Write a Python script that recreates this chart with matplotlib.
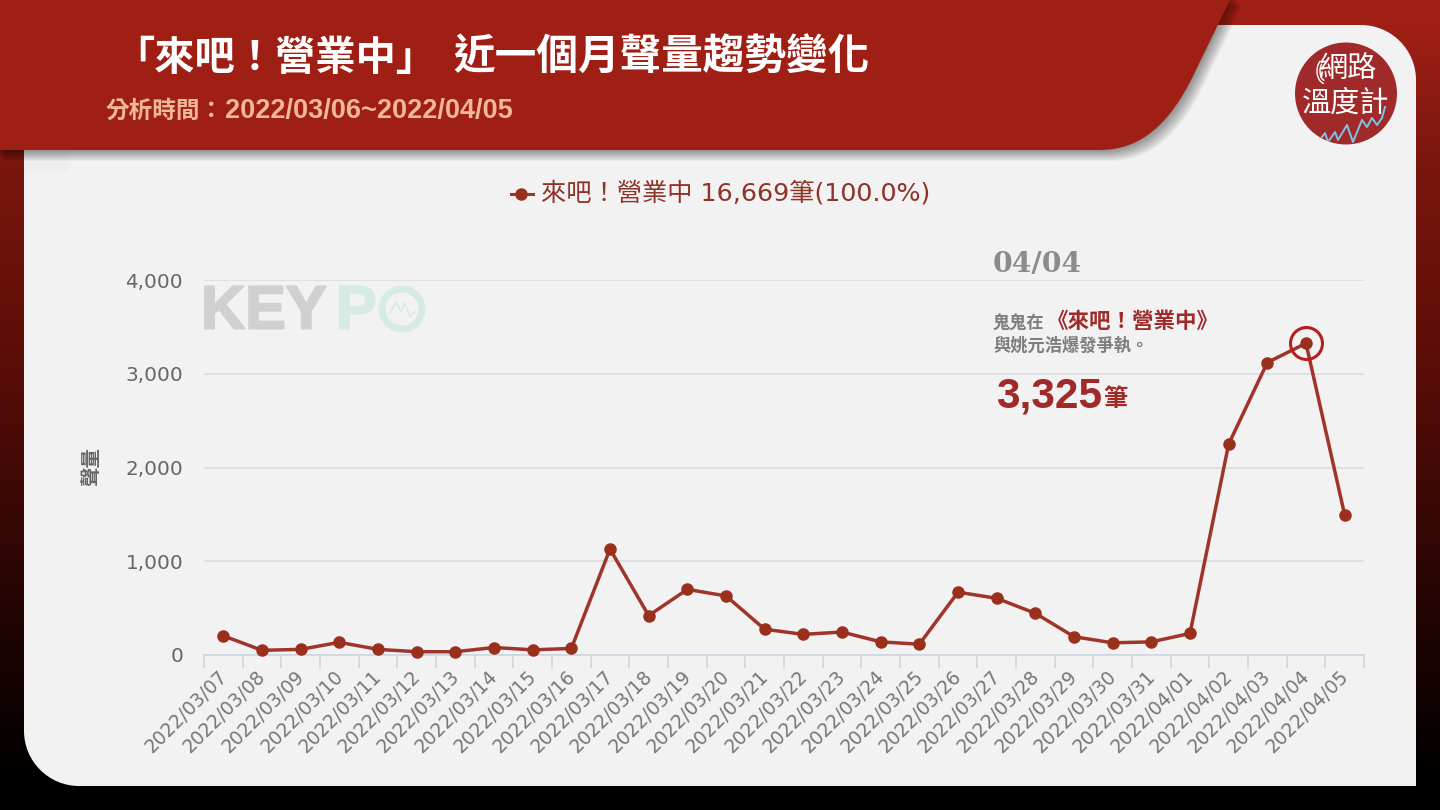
import numpy as np
import matplotlib
matplotlib.use("Agg")
import matplotlib.pyplot as plt
import matplotlib.patheffects as pe
from matplotlib.patches import Circle, PathPatch, Arc
from matplotlib.path import Path
from matplotlib.colors import LinearSegmentedColormap
from matplotlib.transforms import ScaledTranslation

CJK = ['Noto Sans CJK TC', 'DejaVu Sans']
LATIN = ['DejaVu Sans', 'Noto Sans CJK TC']
plt.rcParams['font.family'] = CJK

dates = ["2022/03/07","2022/03/08","2022/03/09","2022/03/10","2022/03/11","2022/03/12",
         "2022/03/13","2022/03/14","2022/03/15","2022/03/16","2022/03/17","2022/03/18",
         "2022/03/19","2022/03/20","2022/03/21","2022/03/22","2022/03/23","2022/03/24",
         "2022/03/25","2022/03/26","2022/03/27","2022/03/28","2022/03/29","2022/03/30",
         "2022/03/31","2022/04/01","2022/04/02","2022/04/03","2022/04/04","2022/04/05"]
volumes = [205,50,60,135,60,35,35,80,55,70,1130,420,700,630,275,220,245,140,115,670,
           605,445,195,130,140,230,2250,3120,3325,1495]
yticks = [0,1000,2000,3000,4000]
peak_index = 28

RED = "#a01f14"
LINE = "#a0342a"
MARK = "#9a2f1c"
GRID = "#d9dce0"
TICKC = "#ccd6e0"
TXT = "#666666"
PANEL = "#f2f2f2"

W, H = 1440, 810
fig = plt.figure(figsize=(14.4, 8.1), dpi=100)

bg = fig.add_axes([0, 0, 1, 1])
bg.axis("off")

cmap = LinearSegmentedColormap.from_list("g", [
    (0, "#a01f14"), (0.03, "#a01f14"), (0.19, "#7b170e"), (0.42, "#5f0e08"),
    (0.69, "#2e0604"), (0.96, "#000000"), (1, "#000000")])
bg.imshow(np.linspace(0, 1, 256)[:, None], cmap=cmap, extent=[0, W, H, 0], aspect="auto", zorder=0)
bg.set_xlim(0, W); bg.set_ylim(H, 0)

# panel: three rounded corners, square bottom right
L, R, T, B = 24, 1416, 25, 786
r = 55
k = 0.45
panel_verts = [(L+r, T), (R-r, T), (R-r*k, T), (R, T+r*k), (R, T+r), (R, B), (L+r, B),
               (L+r*k, B), (L, B-r*k), (L, B-r), (L, T+r), (L, T+r*k), (L+r*k, T), (L+r, T), (L+r, T)]
panel_codes = [Path.MOVETO, Path.LINETO, Path.CURVE4, Path.CURVE4, Path.CURVE4, Path.LINETO, Path.LINETO,
               Path.CURVE4, Path.CURVE4, Path.CURVE4, Path.LINETO, Path.CURVE4, Path.CURVE4, Path.CURVE4,
               Path.CLOSEPOLY]
bg.add_patch(PathPatch(Path(panel_verts, panel_codes), fc=PANEL, ec="none", lw=0, zorder=1))
bg.fill([24, 68, 68, 24], [150, 150, 172, 172], color="#eeeeee", lw=0, zorder=1)


def header(dx=0, dy=0):
    verts = [(-5+dx, -5+dy), (1232+dx, -5+dy), (1230+dx, 0+dy), (1195+dx, 72+dy),
             (1170+dx, 125+dy), (1140+dx, 150+dy), (1100+dx, 150+dy),
             (-5+dx, 150+dy), (-5+dx, -5+dy)]
    codes = [Path.MOVETO, Path.LINETO, Path.LINETO, Path.LINETO, Path.CURVE4, Path.CURVE4, Path.CURVE4,
             Path.LINETO, Path.CLOSEPOLY]
    return Path(verts, codes)


for i in range(11, 0, -1):
    bg.add_patch(PathPatch(header(i*0.9, i), fc="black", ec="none", lw=0, alpha=0.04, zorder=2))
bg.add_patch(PathPatch(header(), fc=RED, ec="none", lw=0, zorder=3))

bg.text(114, 58, "「來吧！營業中」", color="white", fontsize=29, fontweight="bold",
        va="center", ha="left", zorder=4)
bg.text(453, 58, "近一個月聲量趨勢變化", color="white", fontsize=30, fontweight="bold",
        va="center", ha="left", zorder=4)
bg.text(106, 111, "分析時間：", color="#f0b79a", fontsize=17, fontweight="bold",
        va="center", ha="left", zorder=4)
bg.text(225, 111, "2022/03/06~2022/04/05", color="#f0b79a", fontsize=19.5, fontweight="bold",
        family=["Liberation Sans"], va="center", ha="left", zorder=4)

# logo
logo = Circle((1346, 93.5), 51, fc="#a02a2a", ec="none", zorder=4)
bg.add_patch(logo)
bg.text(1348, 69, "網路", color="white", fontsize=21, va="center", ha="center", zorder=5)
bg.text(1346, 104, "溫度計", color="white", fontsize=21, va="center", ha="center", zorder=5)
for w_, h_ in [(12, 20), (18, 26)]:
    bg.add_patch(Arc((1326, 71), w_, h_, theta1=100, theta2=240, color="white", lw=1, zorder=5))
spark_x = [1322,1325,1328,1335,1338,1347,1353,1362,1367,1372,1377,1382,1385]
spark_y = [137,133,142,132,140,125,142,120,127,118,125,118,107]
spark, = bg.plot(spark_x, spark_y, color="#7cc4ea", lw=1.4, zorder=6)
spark.set_clip_path(logo)

# watermark
heavy = [pe.withStroke(linewidth=1.5, foreground="#cfd0d0")]
heavy2 = [pe.withStroke(linewidth=1.5, foreground="#d6ebe4")]
bg.text(201, 313, "KEY", color="#cfd0d0", fontsize=44, fontweight="bold", family=["Liberation Sans"],
        va="center", ha="left", zorder=2, path_effects=heavy)
bg.text(336, 313, "P", color="#d6ebe4", fontsize=44, fontweight="bold", family=["Liberation Sans"],
        va="center", ha="left", zorder=2, path_effects=heavy2)
bg.add_patch(Circle((402, 309), 20, fc="none", ec="#d6ebe4", lw=5, zorder=2))
bg.plot([390, 396, 401, 405, 410, 415], [313, 302, 312, 303, 317, 311], color="#d6ebe4", lw=1.2, zorder=2)

# chart
left, right, top, bottom = 204, 1364, 280, 655
ax = fig.add_axes([left/W, 1-bottom/H, (right-left)/W, (bottom-top)/H])
ax.patch.set_alpha(0)
x = np.arange(len(dates))
ax.set_xlim(-0.5, len(dates)-0.5)
ax.set_ylim(0, 4000)
ax.set_yticks(yticks)
ax.set_yticklabels([f"{v:,}" for v in yticks], fontsize=14.4, color=TXT, family=LATIN)
ax.grid(axis="y", color=GRID, lw=1.2)
ax.set_axisbelow(True)
for s in ["top", "right", "left"]:
    ax.spines[s].set_visible(False)
ax.spines["bottom"].set_color(TICKC)
ax.spines["bottom"].set_linewidth(1.2)
ax.tick_params(axis="y", length=0, pad=15)
ax.set_xticks(np.arange(len(dates)+1)-0.5)
ax.set_xticklabels([])
ax.tick_params(axis="x", length=9, width=1.2, color=TICKC)
ax.set_xticks(x, minor=True)
ax.set_xticklabels(dates, minor=True, rotation=45, ha="right", va="top", rotation_mode="anchor",
                   fontsize=13.5, color="#777777", family=LATIN)
ax.tick_params(axis="x", which="minor", length=0, pad=8.5)
shift = ScaledTranslation(-6/100, 0, fig.dpi_scale_trans)
for lab in ax.get_xticklabels(minor=True):
    lab.set_transform(lab.get_transform() + shift)

ax.plot(x, volumes, color=LINE, lw=2.5, marker="o", ms=8, mfc=MARK, mec=MARK, zorder=5, clip_on=False)
ax.plot([x[peak_index]], [volumes[peak_index]], marker="o", ms=23, mfc="none", mec="#b3201f", mew=2.2,
        zorder=6, clip_on=False)

bg.text(92, 467, "聲量", rotation=90, color=TXT, fontsize=14, fontweight="bold", va="center", ha="center", zorder=2)

# legend
bg.plot([511, 533], [194, 194], color=LINE, lw=2.2, zorder=2)
bg.plot([521], [194], color=MARK, marker="o", ms=8, zorder=2)
bg.text(541, 193, "來吧！營業中 16,669筆(100.0%)", color="#8f3328", fontsize=18.2, family=LATIN,
        va="center", ha="left", zorder=2)

# annotation
bg.text(993, 264, "04/04", color="#8b8b8b", fontsize=20.3, fontweight="bold", family=["DejaVu Serif"],
        va="center", ha="left", zorder=7)
bg.text(993, 323.5, "鬼鬼在", color="#7d7d7d", fontsize=12.4, fontweight="bold", va="center", ha="left", zorder=7)
bg.text(1047, 322, "《來吧！營業中》", color="#a02a2a", fontsize=15.5, fontweight="bold", va="center", ha="left", zorder=7)
bg.text(993, 346, "與姚元浩爆發爭執。", color="#7d7d7d", fontsize=12.4, fontweight="bold", va="center", ha="left", zorder=7)
bg.text(996, 396, "3,325", color="#a02a2a", fontsize=30.5, fontweight="bold", family=["Liberation Sans"],
        va="center", ha="left", zorder=7)
bg.text(1103, 399, "筆", color="#a02a2a", fontsize=17.5, fontweight="bold", va="center", ha="left", zorder=7)

fig.savefig("out.png", dpi=100)
